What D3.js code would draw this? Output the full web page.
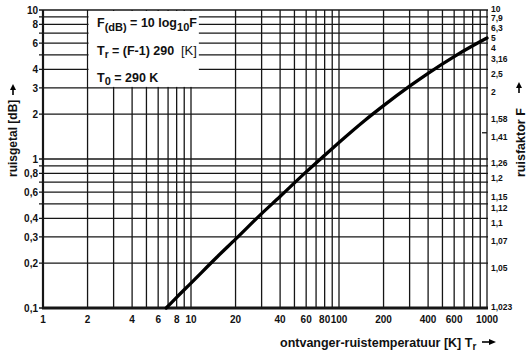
<!DOCTYPE html>
<html>
<head>
<meta charset="utf-8">
<script src="https://cdn.jsdelivr.net/npm/d3@7"></script>
<style>
  html, body { margin: 0; padding: 0; background: #fff; }
  svg { display: block; }
  text { font-family: "Liberation Sans", Arial, Helvetica, sans-serif; fill: #111; }
</style>
</head>
<body>
<svg id="chart" width="530" height="354"></svg>
<script>
// ---- data ----
const xGrid = [1,2,3,4,5,6,7,8,9,10,20,30,40,50,60,70,80,90,100,200,300,400,500,600,700,800,900,1000];
const xTickLabels = [1,2,4,6,8,10,20,40,60,80,100,200,400,600,1000];
const yGrid = [0.1,0.2,0.3,0.4,0.5,0.6,0.7,0.8,0.9,1,2,3,4,5,6,7,8,9,10];
const yTickLabels = [10,8,6,4,3,2,1,0.8,0.6,0.4,0.3,0.2,0.1];
const fLabels = ["10","7,9","6,3","5","4","3,16","2,5","2","1,58","1,41","1,26","1,2","1,15","1,12","1,1","1,07","1,05","1,023"];
const fLabelDb = [10,9,8,7,6,5,4,3,2,1.5,1,0.8,0.6,0.5,0.4,0.3,0.2,0.1];
// receiver noise temperature [K] vs noise figure [dB]
const curveT  = [6.8, 8, 10, 15, 20, 30, 40, 60, 80, 100, 150, 200, 300, 400, 600, 800, 1000];
const curveDb = [0.1, 0.118, 0.147, 0.22, 0.29, 0.43, 0.56, 0.82, 1.06, 1.29, 1.82, 2.28, 3.08, 3.76, 4.87, 5.75, 6.48];

// ---- scales ----
const svg = d3.select("#chart");
const x = d3.scaleLog().domain([1, 1000]).range([43, 487]);
const y = d3.scaleLog().domain([0.1, 10]).range([308, 10]);
const ink = "#161616";

// ---- grid ----
const g = svg.append("g");
g.selectAll("line.vx").data(xGrid).join("line")
  .attr("x1", d => x(d)).attr("x2", d => x(d))
  .attr("y1", y(0.1)).attr("y2", y(10))
  .attr("stroke", ink).attr("stroke-width", 1.3);
g.selectAll("line.hy").data(yGrid).join("line")
  .attr("x1", x(1) - 4).attr("x2", x(1000) + 1)
  .attr("y1", d => y(d)).attr("y2", d => y(d))
  .attr("stroke", ink).attr("stroke-width", 1.3);

// small tick for 1,41 on the right side
svg.append("line")
  .attr("x1", x(1000) - 5).attr("x2", x(1000))
  .attr("y1", y(1.5)).attr("y2", y(1.5))
  .attr("stroke", ink).attr("stroke-width", 1.3);

// axes (thicker)
svg.append("line").attr("x1", x(1)).attr("x2", x(1)).attr("y1", y(0.1) + 1).attr("y2", y(10))
  .attr("stroke", ink).attr("stroke-width", 2.2);
svg.append("line").attr("x1", x(1) - 1).attr("x2", x(1000) + 1).attr("y1", y(0.1)).attr("y2", y(0.1))
  .attr("stroke", ink).attr("stroke-width", 2.8);

// ---- formula box (white area) ----
svg.append("rect")
  .attr("x", x(2) + 1).attr("y", y(10) + 1)
  .attr("width", x(11.3) - x(2) - 1).attr("height", y(3) - y(10) - 2)
  .attr("fill", "#fff");

const box = svg.append("g").attr("font-weight", "bold").attr("font-size", 12.5);
const t1 = box.append("text").attr("x", 97).attr("y", 27);
t1.append("tspan").text("F");
t1.append("tspan").attr("dy", 4).attr("font-size", 11).text("(dB)");
t1.append("tspan").attr("dy", -4).text(" = 10 log");
t1.append("tspan").attr("dy", 4).attr("font-size", 11).text("10");
t1.append("tspan").attr("dy", -4).text("F");
const t2 = box.append("text").attr("x", 97).attr("y", 55);
t2.append("tspan").text("T");
t2.append("tspan").attr("dy", 3).attr("font-size", 10).text("r");
t2.append("tspan").attr("dy", -3).text(" = (F-1) 290");
box.append("text").attr("x", 181).attr("y", 55).attr("font-weight", "normal").attr("font-size", 13).text("[K]");
const t3 = box.append("text").attr("x", 97).attr("y", 82);
t3.append("tspan").text("T");
t3.append("tspan").attr("dy", 3).attr("font-size", 11).text("0");
t3.append("tspan").attr("dy", -3).text(" = 290 K");

// ---- curve ----
const line = d3.line()
  .x((d, i) => x(curveT[i]))
  .y((d, i) => y(curveDb[i]))
  .curve(d3.curveMonotoneX);
svg.append("path").datum(curveT)
  .attr("d", line)
  .attr("fill", "none")
  .attr("stroke", "#000")
  .attr("stroke-width", 3.3)
  .attr("stroke-linecap", "round");

// ---- tick labels ----
const fmt = v => String(v).replace(".", ",");
const lab = svg.append("g").attr("font-weight", "bold").attr("font-size", 10);
lab.selectAll("text.yl").data(yTickLabels).join("text")
  .attr("x", 38).attr("y", d => y(d) + 3.6)
  .attr("text-anchor", "end")
  .text(fmt);
lab.selectAll("text.xl").data(xTickLabels).join("text")
  .attr("x", d => x(d)).attr("y", 322.5)
  .attr("text-anchor", "middle")
  .text(d => d);

// right labels: centres slightly below their lines, spread upward where crowded
const fSize = 8.5, minGap = 9.6;
const centres = fLabelDb.map(db => Math.min(y(db) + 4.5, y(0.1) - 0.5));
for (let i = centres.length - 2; i >= 0; i--) {
  if (centres[i + 1] - centres[i] < minGap) centres[i] = centres[i + 1] - minGap;
}
svg.append("g").attr("font-weight", "bold").attr("font-size", fSize)
  .selectAll("text").data(fLabels).join("text")
  .attr("x", 491).attr("y", (d, i) => centres[i] + fSize * 0.35)
  .attr("text-anchor", "start")
  .text(d => d);

// ---- axis titles ----
const titles = svg.append("g").attr("font-weight", "bold");
titles.append("text").attr("font-size", 12).attr("transform", "translate(17,177) rotate(-90)").text("ruisgetal [dB]");
titles.append("text").attr("font-size", 12.5).attr("transform", "translate(525,177) rotate(-90)").text("ruisfaktor F");
const bt = titles.append("text").attr("font-size", 12.5).attr("x", 280).attr("y", 347);
bt.append("tspan").text("ontvanger-ruistemperatuur [K] T");
bt.append("tspan").attr("dy", 3).attr("font-size", 10).text("r");

// arrows
function arrowV(cx, yTop, yBot) {
  svg.append("line").attr("x1", cx).attr("x2", cx).attr("y1", yTop + 4).attr("y2", yBot)
    .attr("stroke", "#000").attr("stroke-width", 1.6);
  svg.append("path").attr("d", `M${cx - 3},${yTop + 6} L${cx},${yTop} L${cx + 3},${yTop + 6} Z`).attr("fill", "#000");
}
arrowV(13, 84, 95);
arrowV(519, 82, 93);
svg.append("line").attr("x1", 482).attr("x2", 491).attr("y1", 342).attr("y2", 342)
  .attr("stroke", "#000").attr("stroke-width", 1.6);
svg.append("path").attr("d", "M489,339 L496,342 L489,345 Z").attr("fill", "#000");
</script>
</body>
</html>
